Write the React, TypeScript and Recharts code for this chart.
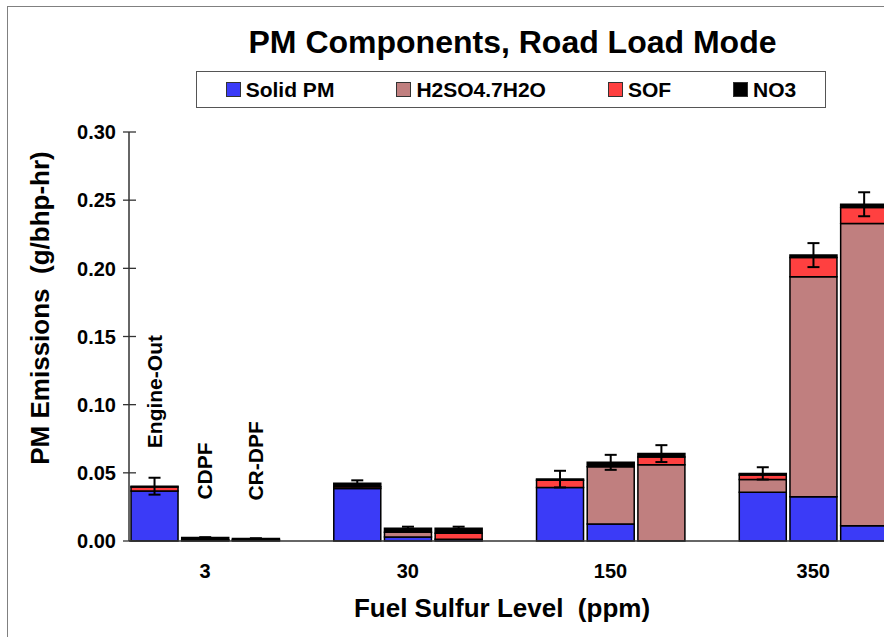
import { BarChart, Bar, XAxis, YAxis, ErrorBar, LabelList, Legend, Label } from 'recharts';

const FONT = '"Liberation Sans", Arial, Helvetica, sans-serif';

const sulfurLevels = ['3', '30', '150', '350'];
const devices = ['Engine-Out', 'CDPF', 'CR-DPF'];

// one value per bar: 3 ppm (Engine-Out, CDPF, CR-DPF), then 30, 150, 350 ppm
const solidPM = [0.0366, 0.0006, 0.0005, 0.0386, 0.003, 0.0012, 0.0393, 0.0125, 0.0, 0.0357, 0.0325, 0.0112];
const h2so4 = [0, 0, 0, 0, 0.0035, 0, 0, 0.042, 0.056, 0.0095, 0.1613, 0.2217];
const sof = [0.0031, 0.0004, 0.0003, 0.0012, 0, 0.0045, 0.0053, 0, 0.0056, 0.0032, 0.0142, 0.0117];
const no3 = [0.0005, 0.0015, 0.001, 0.0025, 0.0028, 0.0036, 0.0008, 0.0032, 0.0025, 0.0012, 0.0017, 0.0024];
const errorBars = [0.0062, 0.0003, 0.0002, 0.0022, 0.0012, 0.0012, 0.0061, 0.0055, 0.0062, 0.0045, 0.0088, 0.0088];

const yTicks = [0, 0.05, 0.1, 0.15, 0.2, 0.25, 0.3];

const SERIES = [
  { key: 'solid', name: 'Solid PM', color: '#3b3bf7' },
  { key: 'h2so4', name: 'H2SO4.7H2O', color: '#c07f7f' },
  { key: 'sof', name: 'SOF', color: '#ff4040' },
  { key: 'no3', name: 'NO3', color: '#000000' },
];

// each sulfur level gets three bars and an empty slot after it
const rows = sulfurLevels.flatMap((level, g) => [
  ...devices.map((device, i) => {
    const k = g * 3 + i;
    return {
      slot: `${level}|${device}`,
      sulfur: i === 1 ? level : '',
      note: g === 0 ? device : '',
      solid: solidPM[k],
      h2so4: h2so4[k],
      sof: sof[k],
      no3: no3[k],
      err: errorBars[k],
    };
  }),
  { slot: `${level}|gap`, sulfur: '', note: '' },
]);

const sulfurBySlot: Record<string, string> = Object.fromEntries(rows.map((r) => [r.slot, r.sulfur]));

function YTick({ x, y, payload }: any) {
  return (
    <g>
      <line x1={x - 6} x2={x + 7} y1={y} y2={y} stroke="#333" strokeWidth={1.3} />
      <text x={x - 13} y={y} dy="0.36em" textAnchor="end" fontSize={20} fontWeight="bold" fontFamily={FONT} fill="#000">
        {Number(payload.value).toFixed(2)}
      </text>
    </g>
  );
}

function XTick({ x, y, payload }: any) {
  const label = sulfurBySlot[payload.value];
  if (!label) return null;
  return (
    <text x={x} y={y + 37} textAnchor="middle" fontSize={20} fontWeight="bold" fontFamily={FONT} fill="#000">
      {label}
    </text>
  );
}

function NoteLabel({ x, y, width, value }: any) {
  if (!value) return null;
  const tx = x + width / 2 + 7;
  const ty = y - 38;
  return (
    <text x={tx} y={ty} transform={`rotate(-90 ${tx} ${ty})`} textAnchor="start" fontSize={21} fontWeight="bold" fontFamily={FONT} fill="#000">
      {value}
    </text>
  );
}

function LegendBox() {
  return (
    <div
      style={{
        boxSizing: 'border-box',
        width: 630,
        height: 37,
        border: '1.5px solid #555',
        background: '#fff',
        display: 'flex',
        alignItems: 'center',
        justifyContent: 'center',
        gap: 62,
        fontFamily: FONT,
        fontWeight: 'bold',
        fontSize: 21,
      }}
    >
      {SERIES.map((s) => (
        <div key={s.key} style={{ display: 'flex', alignItems: 'center' }}>
          <span style={{ width: 13, height: 13, background: s.color, border: '1px solid #333', marginRight: 5, display: 'inline-block' }} />
          <span>{s.name}</span>
        </div>
      ))}
    </div>
  );
}

export default function App() {
  return (
    <div style={{ position: 'fixed', left: 0, top: 0, width: 884, height: 637, overflow: 'hidden', background: '#fff' }}>
      <div style={{ position: 'absolute', left: 7, top: 6, width: 2000, height: 2000, borderLeft: '1.5px solid #808080', borderTop: '1.5px solid #808080' }} />
      <div
        style={{
          position: 'absolute',
          left: 0,
          top: 26,
          width: 1025,
          textAlign: 'center',
          fontFamily: FONT,
          fontWeight: 'bold',
          fontSize: 32,
          lineHeight: '32px',
          color: '#000',
        }}
      >
        PM Components, Road Load Mode
      </div>
      <div style={{ position: 'absolute', left: 0, top: 0 }}>
        <BarChart width={940} height={637} data={rows} margin={{ top: 132, right: 0, bottom: 0, left: 0 }} barCategoryGap="4%">
          <XAxis
            dataKey="slot"
            interval={0}
            height={96}
            tickSize={0}
            tickMargin={0}
            tickLine={false}
            tick={<XTick />}
            axisLine={{ stroke: '#333', strokeWidth: 1.5 }}
          >
            <Label
              content={() => (
                <text
                  x={502}
                  y={617}
                  textAnchor="middle"
                  fontSize={26}
                  fontWeight="bold"
                  fontFamily={FONT}
                  fill="#000"
                  style={{ whiteSpace: 'pre' }}
                >
                  {'Fuel Sulfur Level  (ppm)'}
                </text>
              )}
            />
          </XAxis>
          <YAxis
            width={129}
            domain={[0, 0.3]}
            ticks={yTicks}
            interval={0}
            tickSize={0}
            tickMargin={0}
            tickLine={false}
            tick={<YTick />}
            axisLine={{ stroke: '#333', strokeWidth: 1.5 }}
          >
            <Label
              content={() => (
                <text
                  x={40}
                  y={308}
                  transform="rotate(-90 40 308)"
                  textAnchor="middle"
                  dominantBaseline="central"
                  fontSize={26}
                  fontWeight="bold"
                  fontFamily={FONT}
                  fill="#000"
                  style={{ whiteSpace: 'pre' }}
                >
                  {'PM Emissions  (g/bhp-hr)'}
                </text>
              )}
            />
          </YAxis>
          <Legend
            layout="horizontal"
            verticalAlign="middle"
            align="center"
            wrapperStyle={{ left: 196, top: 71, width: 630, height: 37 }}
            content={() => <LegendBox />}
          />
          {SERIES.map((s) => (
            <Bar
              key={s.key}
              dataKey={s.key}
              name={s.name}
              stackId="pm"
              fill={s.color}
              stroke="#000"
              strokeWidth={1.5}
              isAnimationActive={false}
            >
              {s.key === 'no3' && <ErrorBar dataKey="err" direction="y" width={6} stroke="#000" strokeWidth={2} />}
              {s.key === 'no3' && <LabelList dataKey="note" content={<NoteLabel />} />}
            </Bar>
          ))}
        </BarChart>
      </div>
    </div>
  );
}
